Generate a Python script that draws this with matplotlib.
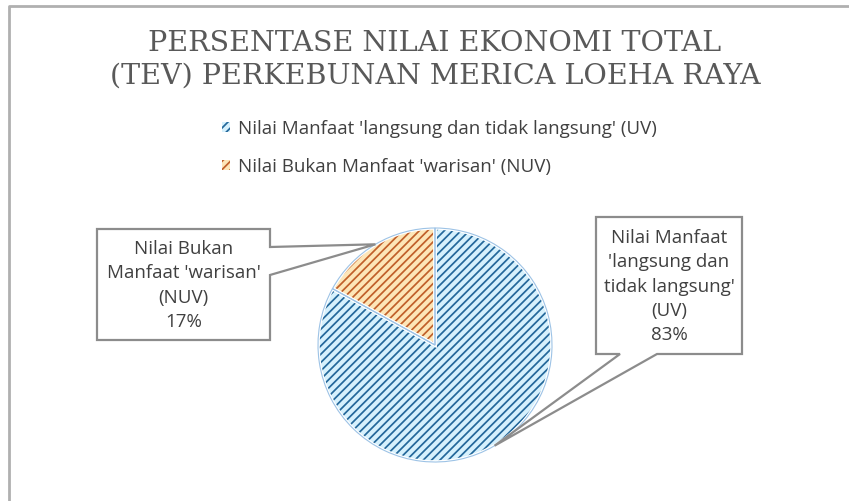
import matplotlib
matplotlib.use("Agg")
import matplotlib.pyplot as plt
from matplotlib.patches import Polygon
import numpy as np

# data
labels = ["Nilai Manfaat 'langsung dan tidak langsung' (UV)",
          "Nilai Bukan Manfaat 'warisan' (NUV)"]
box_labels = ["Nilai Manfaat\n'langsung dan\ntidak langsung'\n(UV)",
              "Nilai Bukan\nManfaat 'warisan'\n(NUV)"]
shares = [83, 17]
title = "PERSENTASE NILAI EKONOMI TOTAL\n(TEV) PERKEBUNAN MERICA LOEHA RAYA"

face_colors = ["#d6f1fd", "#fde6b8"]
hatch_colors = ["#24689a", "#c0602a"]

W, H = 849, 501
plt.rcParams["hatch.linewidth"] = 1.25
body_font = ["Open Sans", "DejaVu Sans"]
text_col = "#404040"
line_col = "#8c8c8c"

fig = plt.figure(figsize=(W / 100, H / 100), dpi=100)

# overlay axes in pixel coordinates (top-left origin) for frame and callouts
ov = fig.add_axes([0, 0, 1, 1])
ov.set_xlim(0, W)
ov.set_ylim(H, 0)
ov.axis("off")
ov.plot([9, 9, W], [H, 6, 6], color="#b0b0b0", lw=2, solid_capstyle="butt")

# pie
cx, cy, r = 435, 345, 117
ax = fig.add_axes([(cx - r) / W, (H - cy - r) / H, 2 * r / W, 2 * r / H])
wedges, _ = ax.pie(shares, startangle=90, counterclock=False,
                   colors=face_colors, radius=1.0,
                   wedgeprops=dict(linewidth=0))
for w, hc in zip(wedges, hatch_colors):
    w.set_hatch("////")
    w.set_edgecolor(hc)
ax.pie(shares, startangle=90, counterclock=False, colors=["none", "none"],
       radius=1.0, wedgeprops=dict(linewidth=2.5, edgecolor="white"))
ax.pie(shares, startangle=90, counterclock=False, colors=["none", "none"],
       radius=1.0, wedgeprops=dict(linewidth=0.8, edgecolor="#9dc3e6"))
ax.set_xlim(-1.0, 1.0)
ax.set_ylim(-1.0, 1.0)
ax.set_aspect("equal")


def tip_of(wedge):
    mid = np.deg2rad((wedge.theta1 + wedge.theta2) / 2)
    disp = ax.transData.transform((np.cos(mid) * 1.0, np.sin(mid) * 1.0))
    return ov.transData.inverted().transform(disp)


# callout boxes
boxes = [
    dict(x0=596, x1=742, y0=217, y1=354, side="bottom", a=620, b=657),
    dict(x0=97, x1=270, y0=229, y1=340, side="right", a=247, b=275),
]
for w, bx, lab, pct in zip(wedges, boxes, box_labels, shares):
    tx, ty = tip_of(w)
    x0, x1, y0, y1 = bx["x0"], bx["x1"], bx["y0"], bx["y1"]
    if bx["side"] == "bottom":
        pts = [(x0, y0), (x1, y0), (x1, y1), (bx["b"], y1), (tx, ty),
               (bx["a"], y1), (x0, y1)]
    else:
        pts = [(x0, y0), (x1, y0), (x1, bx["a"]), (tx, ty), (x1, bx["b"]),
               (x1, y1), (x0, y1)]
    ov.add_patch(Polygon(pts, closed=True, facecolor="white",
                         edgecolor=line_col, lw=1.6, zorder=3))
    ov.text((x0 + x1) / 2, (y0 + y1) / 2 + 1, "%s\n%d%%" % (lab, pct),
            ha="center", va="center", fontsize=13.5, color=text_col,
            family=body_font, linespacing=1.45, zorder=4)
ov.set_zorder(2)
ax.set_zorder(1)
ov.patch.set_alpha(0)

# title
fig.text(435 / W, 1 - 60 / H, title, ha="center", va="center",
         fontsize=20.5, color="#595959", family=["DejaVu Serif"],
         linespacing=1.25)

# legend
leg = fig.legend(wedges, labels, loc="upper left",
                 bbox_to_anchor=(205 / W, 1 - 103 / H), frameon=False,
                 handlelength=0.45, handleheight=0.45, handletextpad=0.4,
                 labelspacing=1.05, prop=dict(family=body_font, size=13.5))
for t in leg.get_texts():
    t.set_color(text_col)

fig.savefig("out.png", dpi=100)
